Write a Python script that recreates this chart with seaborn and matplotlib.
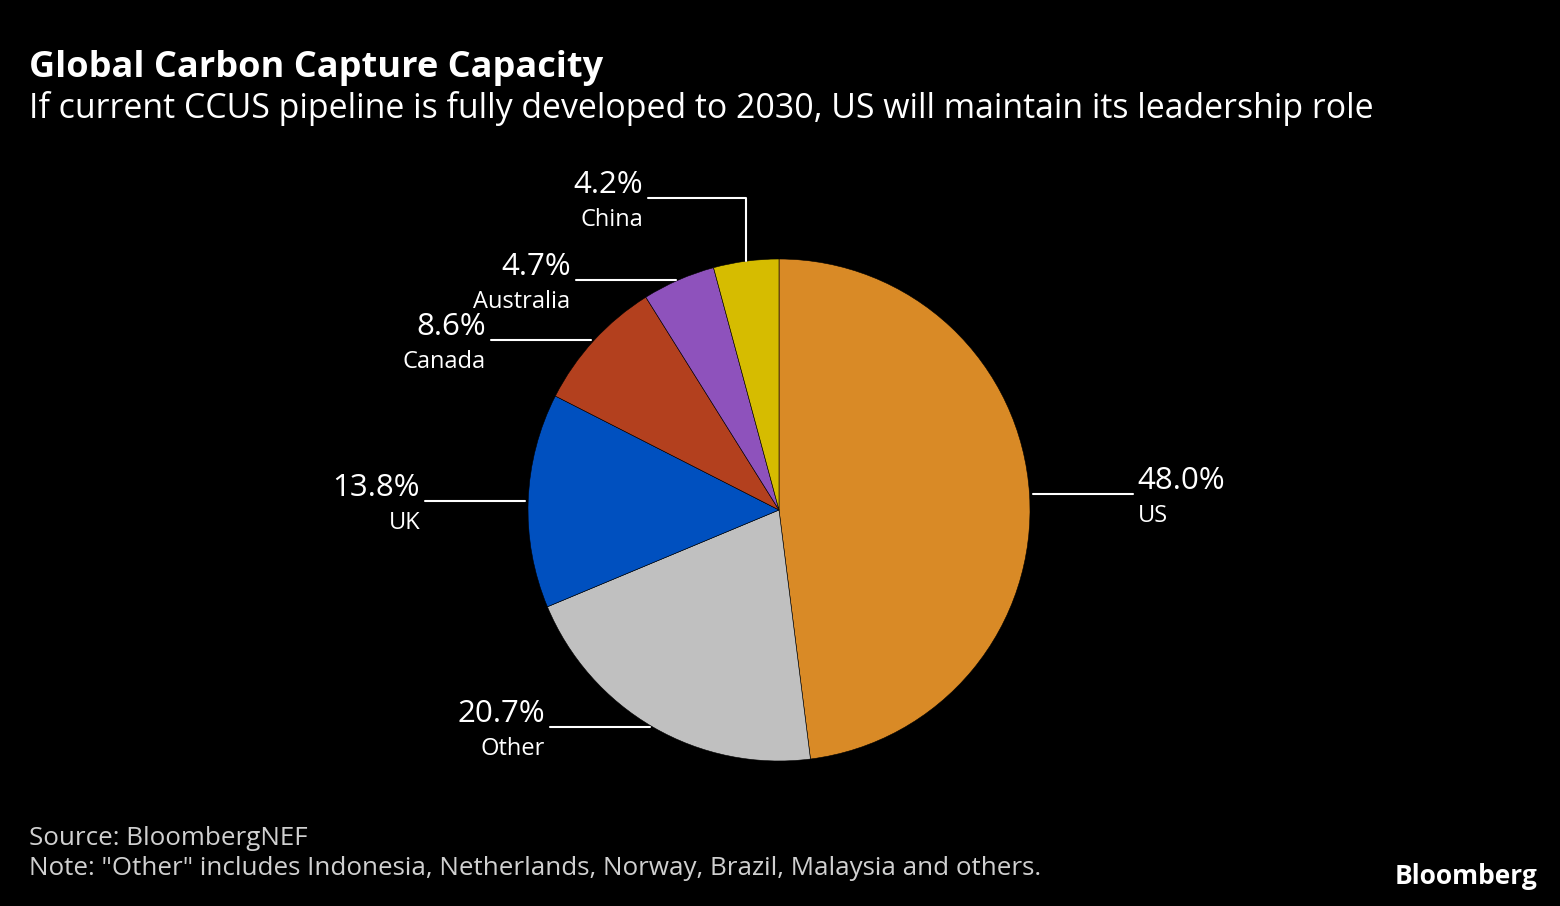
import numpy as np
import matplotlib
matplotlib.use('Agg')
from matplotlib import pyplot as plt
import seaborn as sns

### DATA ###
countries = ['US', 'Other', 'UK', 'Canada', 'Australia', 'China']
shares = [48.0, 20.7, 13.8, 8.6, 4.7, 4.2]
colors = ['#D98A26', '#C0C0C0', '#0050BF', '#B3401E', '#8E52BC', '#D6BC00']

title = 'Global Carbon Capture Capacity'
subtitle = 'If current CCUS pipeline is fully developed to 2030, US will maintain its leadership role'
source = 'Source: BloombergNEF'
note = 'Note: "Other" includes Indonesia, Netherlands, Norway, Brazil, Malaysia and others.'

sns.set_theme(style='dark', rc={'figure.facecolor': 'black', 'axes.facecolor': 'black'})
plt.rcParams['font.family'] = ['Open Sans', 'DejaVu Sans']

W, H = 1560, 906
fig, ax = plt.subplots(figsize=(W / 100, H / 100), dpi=100)
ax.set_position([0, 0, 1, 1])

def Y(py):
    return H - py

cx, cy, r = 779, Y(510), 251
wedges, _ = ax.pie(shares, colors=colors, startangle=90, counterclock=False,
                   center=(cx, cy), radius=r,
                   wedgeprops=dict(edgecolor='black', linewidth=0.4))
ax.set_xlim(0, W)
ax.set_ylim(0, H)
ax.set_aspect('equal')
ax.axis('off')

# leader lines + labels
line_len = 100
for w, name, val in zip(wedges, countries, shares):
    mid = np.deg2rad((w.theta1 + w.theta2) / 2)
    ex, ey = cx + r * np.cos(mid), cy + r * np.sin(mid)
    pct = f'{val:.1f}%'
    if name == 'China':
        top = ey + 63
        end = ex - 98
        ax.plot([ex, ex, end], [ey, top, top], color='white', lw=1.5)
        lx, ly, ha = end - 5, top, 'right'
    elif np.cos(mid) > 0:
        ax.plot([ex + 3, ex + 3 + line_len], [ey, ey], color='white', lw=1.5)
        lx, ly, ha = ex + 3 + line_len + 5, ey, 'left'
    else:
        ax.plot([ex - 3, ex - 3 - line_len], [ey, ey], color='white', lw=1.5)
        lx, ly, ha = ex - 3 - line_len - 5, ey, 'right'
    ax.text(lx, ly + 13, pct, color='white', fontsize=22.5, ha=ha, va='center')
    ax.text(lx, ly - 22, name, color='white', fontsize=17, ha=ha, va='center')

fig.text(29 / W, 1 - 77 / H, title, color='white', fontsize=26, fontweight='bold', va='baseline')
fig.text(29 / W, 1 - 118 / H, subtitle, color='white', fontsize=24.4, va='baseline')
fig.text(29 / W, 1 - 845 / H, source, color='#d0d0d0', fontsize=18.7, va='baseline')
fig.text(29 / W, 1 - 875 / H, note, color='#d0d0d0', fontsize=18.7, va='baseline')
fig.text(1537 / W, 1 - 884 / H, 'Bloomberg', color='white', fontsize=19, fontweight='bold',
         ha='right', va='baseline')

plt.savefig('out.png', dpi=100, facecolor='black')
